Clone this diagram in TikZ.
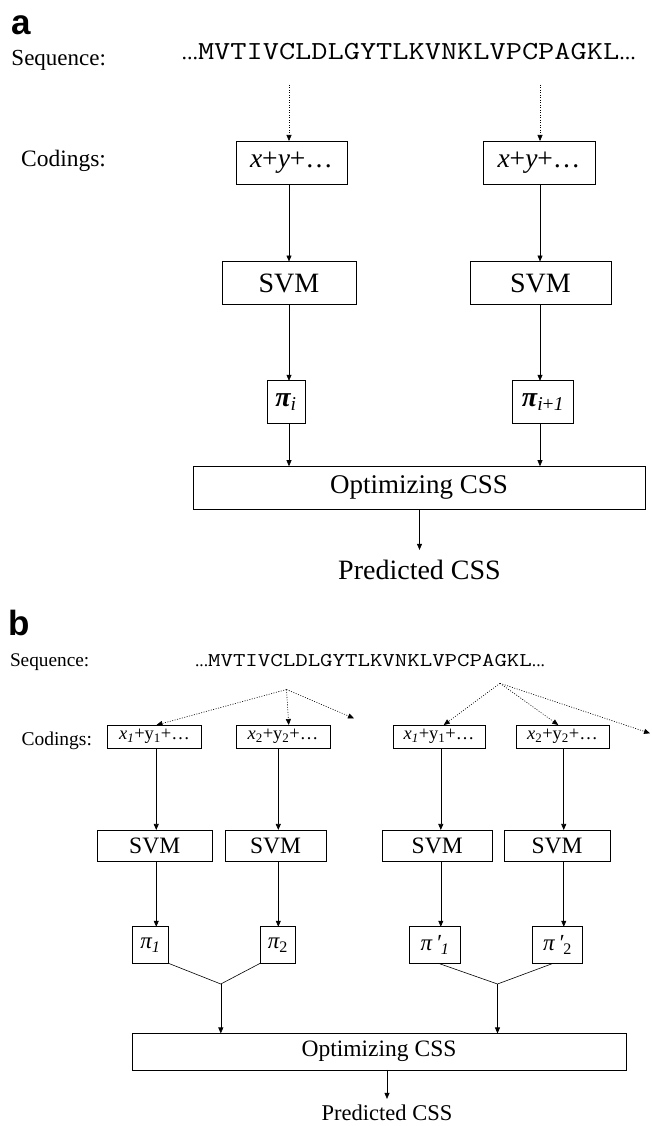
\documentclass[tikz,border=0pt]{standalone}
\usepackage{fontspec}
\setmainfont{Liberation Serif}
\newfontfamily\sansfam{Liberation Sans}
\usetikzlibrary{arrows.meta}
\newcommand\setfs[1]{\fontsize{#1}{#1}\selectfont}
\begin{document}
\begin{tikzpicture}[x=1pt,y=-1pt,
  box/.style={draw, line width=0.7pt, inner sep=0pt, outer sep=0pt},
  arr/.style={-{Triangle[length=6pt,width=5pt]}, line width=0.6pt},
  dotarr/.style={arr, dash pattern=on 1pt off 1.5pt},
  txt/.style={inner sep=0pt, outer sep=0pt},
  plain/.style={line width=0.6pt}]
\useasboundingbox (0,0) rectangle (652,1126);

% ---------------- part a ----------------
\node[txt, anchor=base west, font={\sansfam\bfseries\setfs{35}}] (la) at (11,35) {a};
\node[txt, anchor=base east, font={\setfs{23}}] (seqla) at (106,65.5) {Sequence:};
\node[txt, anchor=base west] (seqa) at (181.5,59.3)
  {\setfs{22}...\scalebox{1.21}[1]{\ttfamily\setfs{26}MVTIVCLDLGYTLKVNKLVPCPAGKL}\rmfamily\setfs{22}...};
\node[txt, anchor=base east, font={\setfs{23.5}}] (codla) at (106,166.5) {Codings:};

\coordinate (ta1) at (289,85);
\coordinate (ta2) at (540,85);
\coordinate (colA1) at (289,0);
\coordinate (colA2) at (540,0);

\node[box, minimum width=111pt, minimum height=43pt, font={\setfs{27.5}}] (ca1) at (291.5,162.5)
  {\itshape x\upshape +\itshape y\upshape +…};
\node[box, minimum width=112pt, minimum height=43pt, font={\setfs{27.5}}] (ca2) at (539,162.5)
  {\itshape x\upshape +\itshape y\upshape +…};
\node[box, minimum width=134pt, minimum height=43pt, font={\setfs{28}}] (sa1) at (289,283) {SVM};
\node[box, minimum width=141pt, minimum height=43pt, font={\setfs{28}}] (sa2) at (540.5,283) {SVM};
\node[box, minimum width=38pt, minimum height=43pt, font={\setfs{28}}] (pa1) at (286,402.3)
  {\bfseries\itshape π\mdseries\textsubscript{\itshape i}};
\node[box, minimum width=61pt, minimum height=43pt, font={\setfs{28}}] (pa2) at (543,402.3)
  {\bfseries\itshape π\mdseries\textsubscript{\itshape i\upshape +\itshape 1}};
\node[box, minimum width=452pt, minimum height=43pt, font={\setfs{27}}] (oa) at (419,487.7) {Optimizing CSS};
\node[txt, anchor=base, font={\setfs{28}}] (preda) at (419.5,579.3) {Predicted CSS};

\draw[dotarr] (ta1) -- (ca1.north -| colA1);
\draw[dotarr] (ta2) -- (ca2.north -| colA2);
\draw[arr] (ca1.south -| colA1) -- (sa1.north -| colA1);
\draw[arr] (ca2.south -| colA2) -- (sa2.north -| colA2);
\draw[arr] (sa1.south -| colA1) -- (pa1.north -| colA1);
\draw[arr] (sa2.south -| colA2) -- (pa2.north -| colA2);
\draw[arr] (pa1.south -| colA1) -- (oa.north -| colA1);
\draw[arr] (pa2.south -| colA2) -- (oa.north -| colA2);
\draw[arr, shorten >=10pt] (oa.south -| preda.north) -- (preda.north);

% ---------------- part b ----------------
\node[txt, anchor=base west, font={\sansfam\bfseries\setfs{35}}] (lb) at (9,635) {b};
\node[txt, anchor=base west, font={\setfs{19.3}}] (seqlb) at (10,666.5) {Sequence:};
\node[txt, anchor=base west] (seqb) at (195,666.7)
  {\setfs{17.5}...\scalebox{1.24}[1]{\ttfamily\setfs{19.5}MVTIVCLDLGYTLKVNKLVPCPAGKL}\rmfamily\setfs{17.5}...};
\node[txt, anchor=base west, font={\setfs{19.5}}] (codlb) at (21.5,745.5) {Codings:};

\coordinate (sb1) at (286.5,689.5);
\coordinate (sb2) at (500,683.3);
\coordinate (fb1) at (354,718.3);
\coordinate (fb2) at (650,733.3);
\coordinate (colB1) at (156.25,0);
\coordinate (colB2) at (278.3,0);
\coordinate (colB3) at (440.8,0);
\coordinate (colB4) at (563.75,0);
\coordinate (m1) at (220.8,984);
\coordinate (m2) at (497.5,984);

\node[box, minimum width=93.5pt, minimum height=23pt, font={\setfs{18.5}}] (cb1) at (154.5,736.5)
  {\itshape x\textsubscript{1}\upshape +y\textsubscript{1}+…};
\node[box, minimum width=94pt, minimum height=23pt, font={\setfs{18.5}}] (cb2) at (283,736.5)
  {\itshape x\upshape\textsubscript{2}+y\textsubscript{2}+…};
\node[box, minimum width=92pt, minimum height=23pt, font={\setfs{18.5}}] (cb3) at (439,736.5)
  {\itshape x\textsubscript{1}\upshape +y\textsubscript{1}+…};
\node[box, minimum width=93pt, minimum height=23pt, font={\setfs{18.5}}] (cb4) at (562.5,736.5)
  {\itshape x\upshape\textsubscript{2}+y\textsubscript{2}+…};

\node[box, minimum width=115.5pt, minimum height=31.7pt, font={\setfs{23.5}}] (vb1) at (154.7,845.8) {SVM};
\node[box, minimum width=101pt, minimum height=31.7pt, font={\setfs{23.5}}] (vb2) at (275.5,845.8) {SVM};
\node[box, minimum width=109.5pt, minimum height=31.7pt, font={\setfs{23.5}}] (vb3) at (437.2,845.8) {SVM};
\node[box, minimum width=106pt, minimum height=31.7pt, font={\setfs{23.5}}] (vb4) at (557,845.8) {SVM};

\node[box, minimum width=36pt, minimum height=36.5pt, font={\setfs{23}}] (pb1) at (150.4,945)
  {\itshape π\textsubscript{1}};
\node[box, minimum width=35.5pt, minimum height=36.5pt, font={\setfs{23}}] (pb2) at (278,945)
  {\itshape π\upshape\textsubscript{2}};
\node[box, minimum width=51pt, minimum height=36.5pt, font={\setfs{23}}] (pb3) at (435,945)
  {\itshape π\,′\textsubscript{1}};
\node[box, minimum width=50pt, minimum height=36.5pt, font={\setfs{23}}] (pb4) at (557.5,945)
  {\itshape π\,′\upshape\textsubscript{2}};

\node[box, minimum width=494pt, minimum height=36.5pt, font={\setfs{23.5}}] (ob) at (379,1051.7) {Optimizing CSS};
\node[txt, anchor=base, font={\setfs{22.5}}] (predb) at (387,1120.5) {Predicted CSS};

\draw[dotarr] (sb1) -- ([xshift=2pt]cb1.north);
\draw[dotarr] (sb1) -- ([xshift=5.75pt]cb2.north);
\draw[dotarr] (sb1) -- (fb1);
\draw[dotarr] (sb2) -- ([xshift=4.75pt]cb3.north);
\draw[dotarr] (sb2) -- ([xshift=-4.2pt]cb4.north);
\draw[dotarr] (sb2) -- (fb2);

\draw[arr] (cb1.south -| colB1) -- (vb1.north -| colB1);
\draw[arr] (cb2.south -| colB2) -- (vb2.north -| colB2);
\draw[arr] (cb3.south -| colB3) -- (vb3.north -| colB3);
\draw[arr] (cb4.south -| colB4) -- (vb4.north -| colB4);
\draw[arr] (vb1.south -| colB1) -- (pb1.north -| colB1);
\draw[arr] (vb2.south -| colB2) -- (pb2.north -| colB2);
\draw[arr] (vb3.south -| colB3) -- (pb3.north -| colB3);
\draw[arr] (vb4.south -| colB4) -- (pb4.north -| colB4);

\draw[plain] (pb1.south east) -- (m1) -- (pb2.south west);
\draw[plain] ([xshift=3.3pt]pb3.south) -- (m2) -- ([xshift=-4.2pt]pb4.south);
\draw[arr] (m1) -- (ob.north -| m1);
\draw[arr] (m2) -- (ob.north -| m2);
\draw[arr, shorten >=6pt] (ob.south -| predb.north) -- (predb.north);
\end{tikzpicture}
\end{document}
